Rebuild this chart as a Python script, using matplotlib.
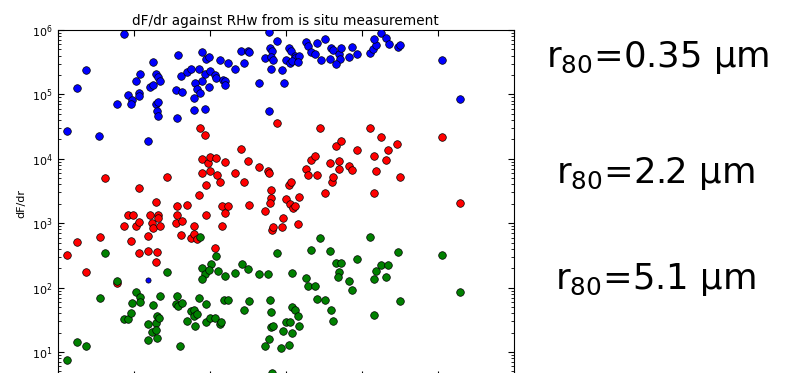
import numpy as np
import matplotlib.pyplot as plt

# values: RHw (%) and dF/dr for each size class
blue_rh = [41.2, 42.6, 43.7, 45.5, 47.8, 48.75, 49.3, 49.76, 49.7, 50.3,
           50.8, 50.76, 50.76, 51.9, 52.2, 52.5, 52.5, 52.9, 53.25, 53.5,
           52.9, 53.2, 53.1, 53.2, 55.8, 56.2, 55.6, 56.4, 55.7, 57.1,
           57.6, 58.6, 59.0, 59.5, 59.9, 59.4, 59.0, 58.1, 58.4, 58.7,
           57.9, 58.0, 59.4, 59.9, 60.1, 60.7, 61.4, 60.9, 61.8, 62.1,
           62.1, 62.4, 63.4, 64.2, 64.6, 65.0, 65.2, 66.5, 67.8, 67.8,
           68.9, 68.0, 68.2, 67.3, 68.1, 68.4, 68.1, 69.5, 69.8, 70.0,
           70.5, 70.75, 71.2, 71.3, 71.8, 70.6, 70.9, 71.7, 72.7, 73.0,
           73.4, 73.9, 74.2, 75.2, 74.6, 75.8, 76.0, 76.2, 77.0, 77.1,
           76.7, 77.3, 78.4, 78.7, 79.4, 81.1, 81.55, 81.9, 81.7, 82.5,
           83.2, 83.55, 84.8, 85.1, 90.55, 92.9]
blue_dfdr = [2.75e4, 1.25e5, 2.4e5, 2.3e4, 7.0e4, 8.6e5, 9.7e4, 8.3e4, 7.0e4, 1.6e5,
             2.1e5, 1.06e5, 9.6e4, 1.9e4, 1.3e5, 1.4e5, 3.2e5, 2.1e5, 1.86e5, 1.6e5,
             7.0e4, 7.5e4, 5.5e4, 4.7e4, 4.1e5, 1.95e5, 1.16e5, 1.1e5, 4.3e4, 2.2e5,
             2.5e5, 2.5e5, 4.5e5, 3.6e5, 3.8e5, 2.05e5, 1.6e5, 1.5e5, 1.2e5, 1.06e5,
             8.9e4, 5.7e4, 5.9e4, 1.28e5, 2.3e5, 2.0e5, 3.4e5, 1.8e5, 1.7e5, 1.6e5,
             1.4e5, 3.1e5, 2.5e5, 4.8e5, 3.1e5, 4.7e5, 4.6e5, 1.5e5, 9.3e5, 5.6e4,
             6.8e5, 5.2e5, 4.8e5, 3.65e5, 3.8e5, 3.44e5, 2.5e5, 2.4e5, 1.5e5, 3.45e5,
             5.3e5, 4.64e5, 3.9e5, 3.67e5, 3.94e5, 3.1e5, 3.3e5, 3.15e5, 6.4e5, 5.55e5,
             4.6e5, 4.3e5, 6.3e5, 7.3e5, 3.4e5, 3.6e5, 5.3e5, 4.9e5, 4.3e5, 3.6e5,
             3.0e5, 5.3e5, 3.8e5, 5.5e5, 4.3e5, 4.37e5, 5.0e5, 5.9e5, 7.2e5, 8.9e5,
             7.4e5, 6.1e5, 5.35e5, 5.9e5, 3.4e5, 8.5e4]

# one small blue point sits down in the green cloud
odd_rh = [51.9]
odd_dfdr = [130]

red_rh = [41.2, 42.6, 43.7, 45.6, 46.2, 47.8, 48.75, 49.3, 49.9, 49.7,
          50.3, 50.75, 50.76, 50.76, 51.9, 51.9, 52.2, 52.4, 52.5, 52.9,
          52.9, 53.1, 53.2, 53.2, 53.5, 54.4, 55.7, 55.7, 55.6, 56.2,
          56.4, 57.1, 57.6, 58.0, 58.0, 58.4, 58.55, 58.7, 59.0, 59.0,
          59.4, 59.6, 59.6, 59.8, 60.0, 60.1, 60.8, 60.7, 61.0, 61.4,
          61.6, 62.0, 62.4, 61.6, 62.1, 63.4, 64.2, 64.6, 65.0, 65.2,
          66.5, 67.3, 67.7, 67.8, 68.1, 68.1, 68.0, 68.2, 68.4, 68.9,
          69.5, 69.7, 70.0, 70.5, 70.75, 70.55, 70.95, 71.2, 71.7, 71.8,
          72.7, 73.0, 73.4, 73.9, 74.2, 74.5, 75.2, 75.8, 76.05, 76.25,
          76.7, 77.3, 77.0, 77.0, 78.3, 78.75, 79.4, 81.1, 81.6, 81.7,
          81.9, 82.5, 83.2, 83.5, 84.7, 85.1, 90.55, 92.9]
red_dfdr = [322, 506, 177, 617, 4980, 120, 905, 1340, 1340, 529,
            920, 1040, 3520, 340, 630, 374, 1340, 1000, 833, 2170,
            253, 357, 1330, 1190, 920, 5130, 1870, 1350, 1000, 651,
            1090, 1920, 590, 920, 685, 564, 2710, 2.97e4, 9800, 6090,
            2.37e4, 3990, 1350, 8600, 6580, 1.07e4, 1.04e4, 408, 5550, 4400,
            1870, 1430, 1880, 905, 8900, 6090, 1.44e4, 4290, 9340, 1920,
            7510, 1570, 6470, 6020, 3300, 2460, 2040, 798, 882, 3.54e4,
            882, 1220, 2400, 3990, 4410, 1970, 1740, 1860, 979, 2540,
            6900, 5700, 9580, 1.09e4, 5660, 2.97e4, 2950, 8700, 4400, 5130,
            1.58e4, 1.89e4, 9310, 6900, 7870, 6750, 1.38e4, 2.97e4, 2950, 1.12e4,
            6470, 2.2e4, 9580, 1.39e4, 1.68e4, 5130, 2.2e4, 2080]

green_rh = [41.2, 42.5, 43.7, 45.6, 46.2, 47.8, 48.75, 49.3, 49.7, 49.8,
            50.3, 50.8, 50.8, 51.9, 51.9, 52.5, 52.4, 52.9, 53.1, 53.3,
            52.9, 53.1, 53.5, 54.4, 55.7, 55.6, 55.8, 56.4, 56.1, 57.1,
            57.6, 58.0, 58.0, 58.1, 58.4, 58.55, 58.7, 59.0, 59.4, 59.0,
            59.6, 59.5, 60.1, 60.2, 59.9, 60.8, 60.7, 61.1, 61.4, 61.55,
            62.1, 61.9, 62.4, 63.4, 64.3, 65.0, 64.6, 65.2, 66.5, 67.7,
            68.0, 68.05, 68.1, 68.4, 67.8, 67.3, 68.2, 68.9, 69.7, 69.4,
            70.0, 70.6, 70.8, 71.2, 71.7, 71.8, 70.8, 70.5, 70.9, 72.7,
            73.0, 73.9, 73.4, 74.5, 74.2, 75.2, 75.8, 76.0, 76.2, 76.7,
            77.3, 77.0, 76.95, 78.4, 78.75, 79.4, 81.1, 81.6, 81.7, 81.9,
            82.5, 83.5, 83.2, 84.8, 85.1, 90.55, 92.9]
green_dfdr = [7.5, 14.4, 12.6, 69.7, 340, 127, 32.9, 32.9, 41, 58.3,
              84.8, 72.3, 59.1, 27.4, 15.5, 53.1, 20.3, 28.7, 36, 34,
              22, 16.7, 73.5, 173, 74.8, 56.6, 51.8, 58.3, 12.4, 30.7,
              43.4, 44.6, 36, 25.6, 38.6, 68.2, 617, 205, 162, 134,
              56, 29.7, 34, 234, 191, 310, 33.5, 181, 27.4, 29.7,
              149, 64.7, 64.7, 169, 233, 196, 44.6, 63, 164, 164,
              63.5, 42.2, 24.4, 25.5, 15.9, 12.4, 4.7, 348, 21.5, 11.4,
              28.9, 29.7, 50.6, 44.4, 36.2, 25.5, 20, 13, 169, 142,
              107, 107, 383, 590, 66.6, 63.5, 366, 45.4, 30.5, 243,
              239, 178, 147, 125, 91.8, 278, 604, 37.3, 134, 181,
              227, 227, 145, 357, 61.5, 324, 85.4]

labels = ['r$_\\mathregular{80}$=0.35 µm', 'r$_\\mathregular{80}$=2.2 µm',
          'r$_\\mathregular{80}$=5.1 µm']

fig = plt.figure(figsize=(7.89, 3.73), dpi=100)
# the picture is a crop: the bottom spine and the x labels lie just below it
ax = fig.add_axes([0.0729, -0.0107, 0.578, 0.9303])

kw = dict(edgecolors='k', linewidths=0.5, zorder=3)
ax.scatter(blue_rh, blue_dfdr, s=30, c='b', **kw)
ax.scatter(odd_rh, odd_dfdr, s=14, c='b', **kw)
ax.scatter(red_rh, red_dfdr, s=30, c='r', **kw)
ax.scatter(green_rh, green_dfdr, s=30, c='g', **kw)

ax.set_yscale('log')
ax.set_ylim(4.1, 1e6)
ax.set_xlim(40, 100)
ax.set_xticks(np.arange(40, 101, 10))
ax.tick_params(which='both', direction='in', top=True, right=True, labelsize=8,
               labelbottom=False)
ax.tick_params(which='major', length=4)
ax.tick_params(which='minor', length=2)

ax.set_title('dF/dr against RHw from is situ measurement', fontsize=9.8, pad=3.5)
ax.set_ylabel('dF/dr', fontsize=8)
ax.yaxis.set_label_coords(-0.069, 0.5)

# size labels on the right
fig.text(658 / 789, 1 - 66.7 / 373, labels[0], fontsize=25.5,
         family='DejaVu Sans', va='baseline', ha='center')
fig.text(655 / 789, 1 - 182.7 / 373, labels[1], fontsize=25.5,
         family='DejaVu Sans', va='baseline', ha='center')
fig.text(655 / 789, 1 - 289.3 / 373, labels[2], fontsize=25.5,
         family='DejaVu Sans', va='baseline', ha='center')

fig.savefig('out.png', dpi=100)
